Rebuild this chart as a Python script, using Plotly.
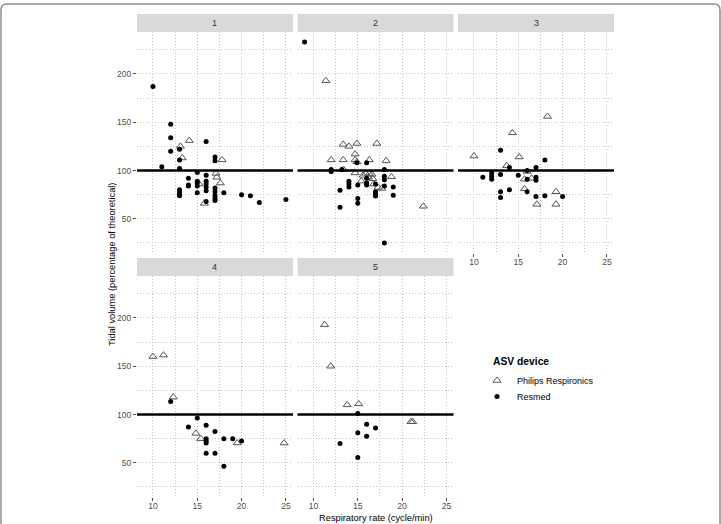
import plotly.graph_objects as go

W, H = 721, 524

# ---------------- data ----------------
panels = ["1", "2", "3", "4", "5"]

p1_resmed_x = [10, 11, 12, 12, 12, 13, 13, 13, 13, 13, 13, 13, 14, 14, 14, 15, 15, 15, 15, 15,
               16, 16, 16, 16, 16, 16, 16, 17, 17, 17, 17, 17, 17, 17, 18, 20, 21, 22, 25]
p1_resmed_y = [187, 104, 148, 134, 120, 122, 111, 102, 80, 78, 76, 74, 92, 85, 84, 98, 89, 87, 84, 77,
               130, 95, 89, 86, 83, 79, 68, 114, 110, 82, 78, 74, 71, 69, 77, 75, 74, 67, 70]
p1_philips_x = [13.1, 13.3, 14.1, 15.2, 15.8, 17.1, 17.2, 17.6, 17.8]
p1_philips_y = [125, 113, 131, 86, 66, 97, 93, 87, 111]

p2_resmed_x = [9, 12, 12, 13.2, 14.9, 16, 18, 14, 14, 14, 13, 15, 16, 16, 16, 17, 17, 17, 17,
               18, 18, 18, 19, 19, 15, 15, 13, 18]
p2_resmed_y = [233, 101, 99, 101, 108, 108, 101, 89, 86, 83, 79.5, 85, 92, 87, 85, 86, 78, 75.5, 73.5,
               94, 90.5, 84, 83, 74.5, 71, 66, 62, 25]
p2_philips_x = [11.4, 13.35, 14, 14.9, 17.15, 12, 13.35, 14.7, 14.7, 14.9, 16.3, 18.2, 14.7, 15.6, 15.9,
                16.3, 16.6, 16.2, 16.7, 18.8, 15.4, 16.8, 17.3, 17.7, 22.4, 13.4]
p2_philips_y = [193, 127, 125, 128, 128, 111, 111, 117, 111, 109, 111, 110, 97.5, 95, 97,
                97, 96, 93, 91.5, 93.5, 89, 86, 82.5, 81.5, 63, 101]

p3_resmed_x = [13, 18, 14, 17, 16, 11, 12, 12, 12, 13, 15, 16, 17, 17, 16, 14, 13, 13, 17, 18, 20]
p3_resmed_y = [121, 111, 103, 103, 100, 93, 97.5, 94, 91, 96, 95, 91, 93, 90, 78, 80, 78, 72, 73, 74, 73]
p3_philips_x = [18.3, 14.35, 10, 15.1, 13.7, 16, 15.7, 16.5, 15.7, 17.1, 19.25, 19.25]
p3_philips_y = [156, 139, 115, 114, 105, 99, 91, 92, 81, 65, 78, 65]

p4_resmed_x = [12, 15, 14, 16, 16, 16, 16, 16, 17, 17, 18, 18, 19, 20]
p4_resmed_y = [113.5, 96.5, 87, 89, 75, 72.5, 70.5, 60, 82.5, 60, 75, 46.5, 75, 72.5]
p4_philips_x = [10, 11.2, 12.3, 14.85, 15.4, 19.5, 24.8]
p4_philips_y = [160, 161.5, 118, 80.5, 75, 70.5, 70.5]

p5_resmed_x = [15, 16, 17, 15, 16, 13, 15]
p5_resmed_y = [101, 90, 86, 81, 77.5, 70, 55.5]
p5_philips_x = [11.25, 11.95, 13.8, 15.1, 21.0, 21.2]
p5_philips_y = [193, 150, 110, 111, 92.5, 92.5]

reference_line = 100
x_ticks = [10, 15, 20, 25]
y_ticks = [50, 100, 150, 200]

resmed = [(p1_resmed_x, p1_resmed_y), (p2_resmed_x, p2_resmed_y), (p3_resmed_x, p3_resmed_y),
          (p4_resmed_x, p4_resmed_y), (p5_resmed_x, p5_resmed_y)]
philips = [(p1_philips_x, p1_philips_y), (p2_philips_x, p2_philips_y), (p3_philips_x, p3_philips_y),
           (p4_philips_x, p4_philips_y), (p5_philips_x, p5_philips_y)]

# ---------------- layout geometry (pixels) ----------------
cols = [(137, 293), (297.5, 453.5), (458, 614)]
rows = [(32, 253), (276, 497)]
strip_h = 18
cells = [(0, 0), (0, 1), (0, 2), (1, 0), (1, 1)]
show_x = [False, False, True, True, True]
show_y = [True, False, False, True, False]

FONT = "Liberation Sans, Arial, sans-serif"
GRID = "#c4c4c4"
GDASH = "1px,2px"
TICKC = "#4d4d4d"

def px_x(v):
    return v / W

def px_y(v):
    return 1 - v / H

fig = go.Figure()
layout = dict(
    width=W, height=H, margin=dict(l=0, r=0, t=0, b=0),
    paper_bgcolor="white", plot_bgcolor="white",
    font=dict(family=FONT, size=9, color="black"),
    shapes=[], annotations=[],
)

for i, (r, c) in enumerate(cells):
    n = "" if i == 0 else str(i + 1)
    xa, ya = "x" + n, "y" + n
    (x0, x1), (y0, y1) = cols[c], rows[r]
    layout["xaxis" + n] = dict(
        domain=[px_x(x0), px_x(x1)], range=[8.2, 25.8], anchor=ya,
        tickvals=x_ticks, showticklabels=show_x[i],
        ticks="outside" if show_x[i] else "", ticklen=3, tickcolor=TICKC, tickwidth=1,
        ticklabelstandoff=-2,
        tickfont=dict(size=8.6, color=TICKC, family=FONT),
        showgrid=True, gridcolor=GRID, griddash=GDASH, gridwidth=1,
        minor=dict(tickvals=[12.5, 17.5, 22.5], showgrid=True, gridcolor=GRID, griddash=GDASH, gridwidth=1),
        zeroline=False, showline=False, fixedrange=True,
    )
    layout["yaxis" + n] = dict(
        domain=[px_y(y1), px_y(y0)], range=[14.6, 243.4], anchor=xa,
        tickvals=y_ticks, showticklabels=show_y[i],
        ticks="outside" if show_y[i] else "", ticklen=3, tickcolor=TICKC, tickwidth=1,
        tickfont=dict(size=8.6, color=TICKC, family=FONT),
        showgrid=True, gridcolor=GRID, griddash=GDASH, gridwidth=1,
        minor=dict(tickvals=[25, 75, 125, 175, 225], showgrid=True, gridcolor=GRID, griddash=GDASH, gridwidth=1),
        zeroline=False, showline=False, fixedrange=True,
    )
    # strip
    layout["shapes"].append(dict(type="rect", xref="paper", yref="paper",
                                 x0=px_x(x0), x1=px_x(x1), y0=px_y(y0), y1=px_y(y0 - strip_h),
                                 fillcolor="#d9d9d9", line=dict(width=0), layer="below"))
    layout["annotations"].append(dict(xref="paper", yref="paper", x=px_x((x0 + x1) / 2),
                                      y=px_y(y0 - strip_h / 2), text=panels[i], showarrow=False,
                                      font=dict(size=9, color="#333333", family=FONT),
                                      xanchor="center", yanchor="middle"))
    # reference line
    layout["shapes"].append(dict(type="line", xref=xa + " domain", yref=ya, x0=0, x1=1,
                                 y0=reference_line, y1=reference_line,
                                 line=dict(color="black", width=2.4), layer="above"))
    rx, ry = resmed[i]
    phx, phy = philips[i]
    fig.add_trace(go.Scatter(x=phx, y=phy, xaxis=xa, yaxis=ya, mode="markers",
                             name="Philips Respironics", legend="legend", showlegend=(i == 0),
                             marker=dict(symbol="triangle-up-open", size=7, color="#555555",
                                         line=dict(width=1, color="#555555"))))
    fig.add_trace(go.Scatter(x=rx, y=ry, xaxis=xa, yaxis=ya, mode="markers",
                             name="Resmed", legend="legend2", showlegend=(i == 0),
                             marker=dict(symbol="circle", size=5, color="black")))

# axis titles
layout["annotations"].append(dict(xref="paper", yref="paper", x=px_x(376), y=px_y(517.5),
                                  text="Respiratory rate (cycle/min)", showarrow=False,
                                  font=dict(size=9.3, color="black", family=FONT),
                                  xanchor="center", yanchor="middle"))
layout["annotations"].append(dict(xref="paper", yref="paper", x=px_x(112), y=px_y(264),
                                  text="Tidal volume (percentage of theoretical)", showarrow=False,
                                  textangle=-90, font=dict(size=9.3, color="black", family=FONT),
                                  xanchor="center", yanchor="middle"))
# legend title
layout["annotations"].append(dict(xref="paper", yref="paper", x=px_x(491), y=px_y(361),
                                  text="<b>ASV device</b>", showarrow=False,
                                  font=dict(size=10.3, color="black", family=FONT),
                                  xanchor="left", yanchor="middle"))
leg_common = dict(xanchor="left", yanchor="top", bgcolor="rgba(0,0,0,0)",
                  font=dict(size=9, family=FONT, color="black"), itemwidth=30)
layout["legend"] = dict(x=px_x(477), y=px_y(366), **leg_common)
layout["legend2"] = dict(x=px_x(477), y=px_y(382), **leg_common)

# outer frame
fx0, fx1, fy0, fy1 = 1, 720, 4, 540
rr = 6
path = (f"M {px_x(fx0)},{px_y(fy1)} L {px_x(fx0)},{px_y(fy0 + rr)} "
        f"Q {px_x(fx0)},{px_y(fy0)} {px_x(fx0 + rr)},{px_y(fy0)} "
        f"L {px_x(fx1 - rr)},{px_y(fy0)} Q {px_x(fx1)},{px_y(fy0)} {px_x(fx1)},{px_y(fy0 + rr)} "
        f"L {px_x(fx1)},{px_y(fy1)}")
layout["shapes"].append(dict(type="path", xref="paper", yref="paper", path=path,
                             line=dict(color="#8c8c8c", width=1.5)))

fig.update_layout(**layout)
fig.write_html("out.html")
